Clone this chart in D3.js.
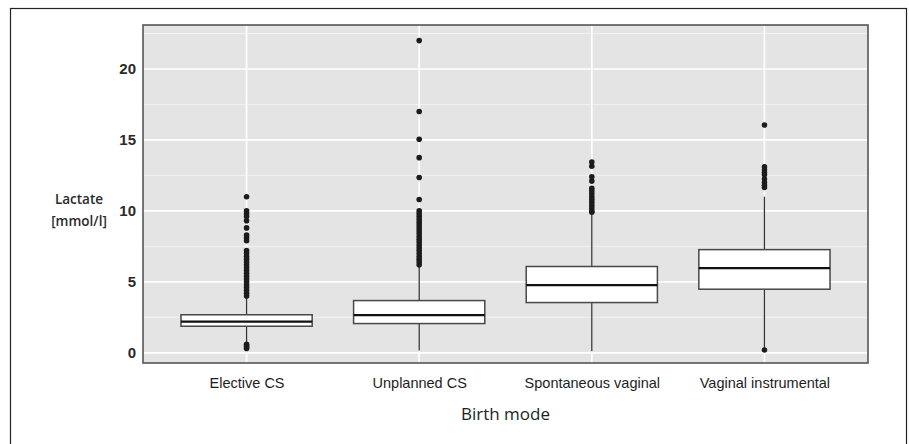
<!DOCTYPE html>
<html>
<head>
<meta charset="utf-8">
<style>
    body { margin: 0; background: #fff; }
    svg { display: block; font-family: 'Open Sans', sans-serif; }
    .y .tick text { font-size: 15px; font-weight: 600; fill: #2a2a2a; }
    .x .tick text { font-size: 14.5px; fill: #1e1e1e; }
    .tick line, .domain { display: none; }
    .axis-title { font-size: 17px; fill: #1e1e1e; }
    .y-title { font-size: 13.5px; font-weight: 600; fill: #2a2a2a; }
</style>
</head>
<body>
<svg width="909" height="444"></svg>
<script src="https://d3js.org/d3.v7.min.js"></script>
<script>
// birth modes
let categories = ["Elective CS", "Unplanned CS", "Spontaneous vaginal", "Vaginal instrumental"];

// box statistics (mmol/l)
let whiskerLow  = [0.7, 0.16, 0.1, 0.35];
let q1          = [1.87, 2.06, 3.54, 4.48];
let median      = [2.2, 2.65, 4.77, 5.96];
let q3          = [2.68, 3.68, 6.08, 7.27];
let whiskerHigh = [3.9, 6.05, 9.75, 11.0];

// outliers per birth mode
let outElective = [11.0, 10.0, 9.8, 9.6, 9.3, 8.8, 8.3, 8.1, 7.9, 7.2, 7.0, 6.8, 6.6, 6.4, 6.2, 6.0,
    5.8, 5.6, 5.4, 5.2, 5.0, 4.8, 4.6, 4.4, 4.2, 4.0, 0.3, 0.4, 0.5, 0.6];
let outUnplanned = [22.0, 17.0, 15.05, 13.75, 12.35, 10.8, 10.0, 9.8, 9.6, 9.4, 9.2, 9.0, 8.8, 8.6, 8.4,
    8.2, 8.0, 7.8, 7.6, 7.4, 7.2, 7.0, 6.8, 6.6, 6.4, 6.2];
let outSpontaneous = [13.45, 13.15, 12.4, 12.1, 11.6, 11.4, 11.2, 11.0, 10.8, 10.6, 10.4, 10.2, 10.0, 9.9];
let outInstrumental = [16.05, 13.1, 12.9, 12.7, 12.55, 12.25, 12.0, 11.8, 11.65, 0.2];
let outliers = [outElective, outUnplanned, outSpontaneous, outInstrumental];

let yTicks = [0, 5, 10, 15, 20];
let yMinor = [2.5, 7.5, 12.5, 17.5, 22.5];

let svg = d3.select("svg");
let margin = { top: 25, right: 41, bottom: 81, left: 143 };
let width = 909 - margin.left - margin.right;
let height = 444 - margin.top - margin.bottom;

// outer frame of the figure
svg.append("rect")
    .attr("x", 10.5).attr("y", 8.5)
    .attr("width", 896).attr("height", 460)
    .attr("fill", "none").attr("stroke", "#222").attr("stroke-width", 1.2);

let g = svg.append("g").attr("transform", `translate(${margin.left},${margin.top})`);

let x = d3.scalePoint()
    .domain(categories)
    .range([0, width])
    .padding(0.6);

let y = d3.scaleLinear()
    .domain([-0.72, 23.1])
    .range([height, 0]);

let step = x.step();
let boxW = step * 0.76;

// panel background
g.append("rect")
    .attr("width", width).attr("height", height)
    .attr("fill", "#e4e4e4");

// grid
g.selectAll(".minor")
    .data(yMinor)
    .join("line")
    .attr("class", "minor")
    .attr("x1", 0).attr("x2", width)
    .attr("y1", d => y(d)).attr("y2", d => y(d))
    .attr("stroke", "#f4f4f4").attr("stroke-width", 0.9);

g.selectAll(".major")
    .data(yTicks)
    .join("line")
    .attr("class", "major")
    .attr("x1", 0).attr("x2", width)
    .attr("y1", d => y(d)).attr("y2", d => y(d))
    .attr("stroke", "#fff").attr("stroke-width", 1.7);

g.selectAll(".vmajor")
    .data(categories)
    .join("line")
    .attr("class", "vmajor")
    .attr("x1", d => x(d)).attr("x2", d => x(d))
    .attr("y1", 0).attr("y2", height)
    .attr("stroke", "#fff").attr("stroke-width", 1.7);

// boxes
let boxes = g.selectAll(".box")
    .data(categories)
    .join("g")
    .attr("class", "box");

boxes.append("line")
    .attr("x1", d => x(d)).attr("x2", d => x(d))
    .attr("y1", (d, i) => y(whiskerLow[i])).attr("y2", (d, i) => y(whiskerHigh[i]))
    .attr("stroke", "#333").attr("stroke-width", 1.3);

boxes.append("rect")
    .attr("x", d => x(d) - boxW / 2)
    .attr("width", boxW)
    .attr("y", (d, i) => y(q3[i]))
    .attr("height", (d, i) => y(q1[i]) - y(q3[i]))
    .attr("fill", "#fff").attr("stroke", "#484848").attr("stroke-width", 1.5);

boxes.append("line")
    .attr("x1", d => x(d) - boxW / 2).attr("x2", d => x(d) + boxW / 2)
    .attr("y1", (d, i) => y(median[i])).attr("y2", (d, i) => y(median[i]))
    .attr("stroke", "#111").attr("stroke-width", 2.2);

boxes.selectAll("circle")
    .data((d, i) => outliers[i].map(v => ({ cat: d, v: v })))
    .join("circle")
    .attr("cx", d => x(d.cat))
    .attr("cy", d => y(d.v))
    .attr("r", 2.8)
    .attr("fill", "#1c1c1c");

// panel border
g.append("rect")
    .attr("width", width).attr("height", height)
    .attr("fill", "none").attr("stroke", "#555").attr("stroke-width", 1.6);

// axes
g.append("g")
    .attr("class", "y axis")
    .call(d3.axisLeft(y).tickValues(yTicks).tickSize(0).tickPadding(7));

g.append("g")
    .attr("class", "x axis")
    .attr("transform", `translate(0,${height})`)
    .call(d3.axisBottom(x).tickSize(0).tickPadding(15));

g.append("text")
    .attr("class", "axis-title")
    .attr("x", width / 2)
    .attr("y", height + 57)
    .attr("text-anchor", "middle")
    .text("Birth mode");

let yt = svg.append("text")
    .attr("class", "y-title")
    .attr("text-anchor", "middle");
yt.append("tspan").attr("x", 79).attr("y", 204).text("Lactate");
yt.append("tspan").attr("x", 79).attr("y", 226).text("[mmol/l]");
</script>
</body>
</html>
